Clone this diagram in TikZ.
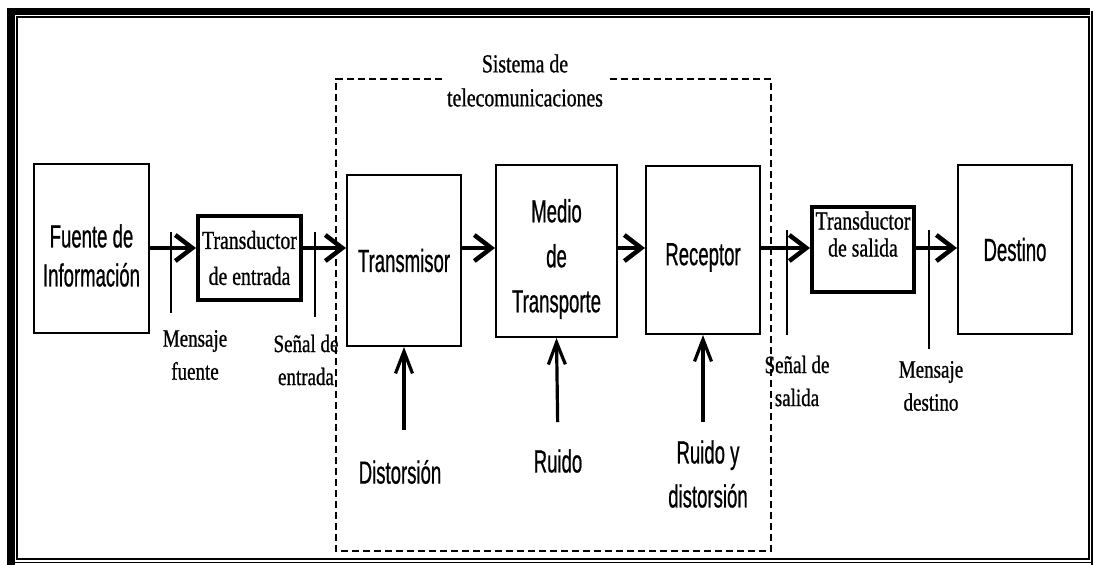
\documentclass[tikz,border=0pt]{standalone}
\usepackage{fontspec}
\newfontfamily\boxfont[FakeStretch=0.58,FakeBold=0.6]{Liberation Sans}
\newfontfamily\labfont[FakeStretch=0.76,FakeBold=0.8]{Liberation Serif}
\usetikzlibrary{arrows.meta,positioning}

\begin{document}
\begin{tikzpicture}[
    x=1pt, y=-1pt,
    >={Straight Barb[length=17pt,width=26pt]},
    % 方塊與文字樣式
    blk/.style={draw, line width=2pt, inner sep=0pt, align=center,
        font=\boxfont\fontsize{32}{39}\selectfont},
    boxtxt/.style={align=center, inner sep=0pt,
        font=\boxfont\fontsize{32}{39}\selectfont},
    tdc/.style={draw, line width=4pt, inner sep=0pt, align=center,
        font=\labfont\fontsize{26}{36}\selectfont},
    lab/.style={align=center, inner sep=2pt,
        font=\labfont\fontsize{25}{33}\selectfont},
    src/.style={align=center, inner sep=2pt,
        font=\boxfont\fontsize{32}{44}\selectfont},
    flow/.style={->, line width=4.5pt},
    hit/.style={-{Straight Barb[length=22pt,width=17pt]}, line width=3.2pt},
    tick/.style={line width=1.6pt},
    frame/.style={line width=1.6pt, dash pattern=on 7pt off 4pt},
]
    \useasboundingbox (0,0) rectangle (1093,565);

    % --- 定義座標參數 ---
    \def\fL{336}  % 虛線框 左
    \def\fR{771}  % 虛線框 右
    \def\fT{79}   % 虛線框 上
    \def\fB{551}  % 虛線框 下
    \coordinate (axis) at (0,248); % 主訊號線高度

    % --- 1. 外框 ---
    \draw[line width=1.6pt] (17,17) rectangle (1089,559);
    \draw[line width=8pt] (11,8) -- (11,565);
    \draw[line width=7pt] (7,11.5) -- (1090,11.5);
    \draw[line width=1.6pt] (1092,11) -- (1092,565);
    \draw[line width=1.6pt] (11,562.5) -- (1093,562.5);

    % --- 2. 方塊 ---
    \node[blk, minimum width=115pt, minimum height=169pt] (fuente) at (91.5,248.5) {};
    \node[boxtxt] (fuentetxt) at ([yshift=-7pt]fuente.center) {Fuente de\\Información};
    \node[tdc, minimum width=103pt, minimum height=84pt] (tin) at (249.5,258) {Transductor\\de entrada};
    \node[blk, minimum width=114pt, minimum height=171pt] (tx) at (404,260.5) {Transmisor};
    \node[blk, minimum width=121pt, minimum height=172pt] (medio) at (556.5,251) {};
    \node[boxtxt, font=\boxfont\fontsize{32}{45}\selectfont] (mediotxt) at ([yshift=-8pt]medio.center) {Medio\\de\\Transporte};
    \node[blk, minimum width=114pt, minimum height=168pt, text height=37pt] (rx) at (703,250) {Receptor};
    \node[tdc, minimum width=102pt, minimum height=85pt, text depth=31pt,
        font=\labfont\fontsize{26}{27}\selectfont] (tout) at (863,249.5) {Transductor\\de salida};
    \node[blk, minimum width=114pt, minimum height=169pt] (dest) at (1015,249.5) {Destino};

    % --- 3. 虛線框與標題 ---
    \node[lab, inner sep=5pt, font=\labfont\fontsize{26}{34}\selectfont] (title) at (525,80.5) {Sistema de\\telecomunicaciones};
    \draw[frame] (title.west |- 0,\fT) -- (\fL,\fT) -- (\fL,\fB) -- (\fR,\fB) -- (\fR,\fT) -- (title.east |- 0,\fT);

    % --- 4. 主訊號箭頭 ---
    \draw[flow] (fuente.east |- axis) -- (tin.west |- axis);
    \draw[flow] (tin.east |- axis) -- (tx.west |- axis);
    \draw[flow] (tx.east |- axis) -- (medio.west |- axis);
    \draw[flow] (medio.east |- axis) -- (rx.west |- axis);
    \draw[flow] (rx.east |- axis) -- (tout.west |- axis);
    \draw[flow] (tout.east |- axis) -- (dest.west |- axis);

    % --- 5. 訊號標記線與標籤 ---
    \draw[tick] (171,232) -- (171,313);
    \draw[tick] (315,232) -- (315,317);
    \draw[tick] (787,230) -- (787,335);
    \draw[tick] (929,230) -- (929,349);

    \node[lab] (mfuente) at (195,355) {Mensaje\\fuente};
    \node[lab] (sentrada) at (306,360) {Señal de\\entrada};
    \node[lab] (ssalida) at (797,381) {Señal de\\salida};
    \node[lab] (mdestino) at (931,386) {Mensaje\\destino};

    % --- 6. 干擾來源 ---
    \node[src] (dist) at (400,472) {Distorsión};
    \node[src] (ruido) at (558,461) {Ruido};
    \node[src] (rd) at (708,474) {Ruido y\\distorsión};

    \draw[hit, shorten <=28pt] (tx.south |- dist.north) -- (tx.south);
    \draw[hit, shorten <=25pt] (ruido.north) -- (medio.south);
    \draw[hit, shorten <=16pt] (rx.south |- rd.north) -- (rx.south);

\end{tikzpicture}
\end{document}
